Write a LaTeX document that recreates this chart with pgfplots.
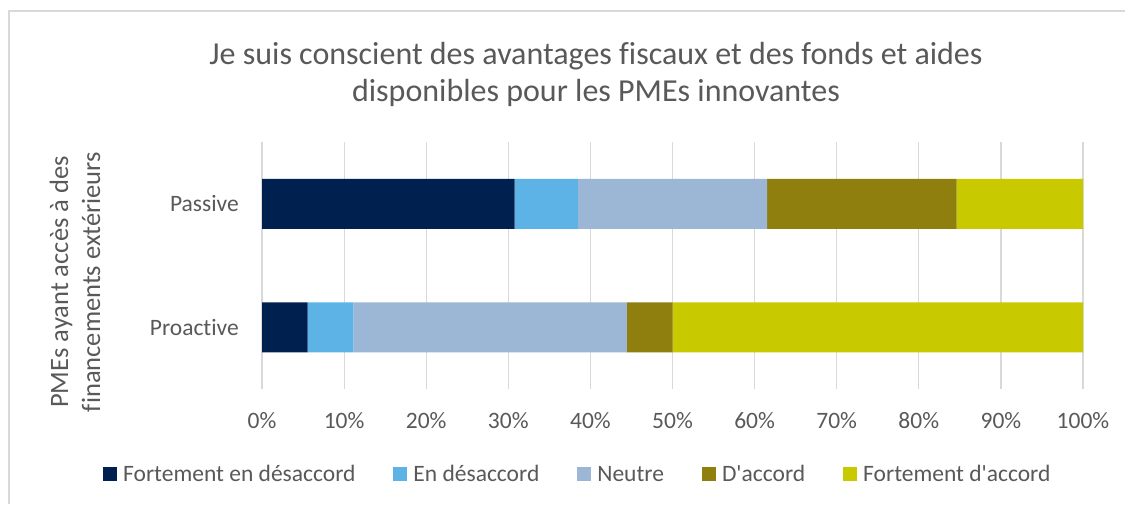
\documentclass[border=0pt]{standalone}
\usepackage{fontspec}
\setmainfont{Carlito}[Ligatures={NoCommon,NoDiscretionary,NoRare}]
\usepackage{pgfplots}
\pgfplotsset{compat=1.18}
\definecolor{c1}{HTML}{002050}
\definecolor{c2}{HTML}{5DB3E6}
\definecolor{c3}{HTML}{9BB7D5}
\definecolor{c4}{HTML}{8F7F0E}
\definecolor{c5}{HTML}{C9C900}
\definecolor{txt}{HTML}{595959}
\definecolor{gridc}{HTML}{D9D9D9}
\pgfplotsset{sqlegend/.style={legend image code/.code={\fill[##1] (0pt,-7pt) rectangle (14pt,7pt);}}}
\begin{document}
\begin{tikzpicture}[x=1pt,y=1pt]
\useasboundingbox (0,0) rectangle (1125,504);
\fill[white] (0,0) rectangle (1125,504);
\draw[gridc, line width=1.2pt] (9,0) -- (9,493) -- (1125,493);
\node[txt, font=\fontsize{32}{37}\selectfont, anchor=base] at (596,439) {Je suis conscient des avantages fiscaux et des fonds et aides};
\node[txt, font=\fontsize{32}{37}\selectfont, anchor=base] at (596,402) {disponibles pour les PMEs innovantes};
\node[txt, font=\fontsize{26.5}{32}\selectfont, rotate=90, anchor=base] at (68,222) {PMEs ayant accès à des};
\node[txt, font=\fontsize{26.5}{32}\selectfont, rotate=90, anchor=base] at (100,222) {financements extérieurs};
\begin{axis}[
  at={(262pt,115pt)}, anchor=south west,
  scale only axis, width=821pt, height=247pt,
  xbar stacked, bar width=50pt,
  xmin=0, xmax=100, ymin=-0.5, ymax=1.5,
  ytick={0,1}, yticklabels={Proactive,Passive},
  xtick={0,10,...,100},
  xticklabel={\pgfmathprintnumber{\tick}\%},
  /pgf/number format/assume math mode=true,
  xmajorgrids, major grid style={gridc, line width=1.2pt},
  axis line style={draw=none},
  major tick length=0pt,
  tick style={draw=none},
  xticklabel style={txt, font=\fontsize{23.5}{28}\selectfont, inner sep=0pt, text height=15pt, text depth=0pt},
  yticklabel style={txt, font=\fontsize{23.5}{28}\selectfont, inner sep=0pt},
  xticklabel shift=24pt,
  yticklabel shift=23pt,
  legend style={at={(-0.1937,-0.344)}, anchor=west, draw=none, fill=none, inner sep=0pt,
    font=\fontsize{23.5}{28}\selectfont, text=txt, legend columns=-1,
    /tikz/every even column/.append style={column sep=38pt},
    /tikz/every odd column/.append style={column sep=6pt},
    nodes={inner sep=0pt, text height=16pt, text depth=0pt}},
  legend cell align=left,
]
\addplot[fill=c1, draw=none, sqlegend] coordinates {(5.56,0) (30.77,1)};
\addplot[fill=c2, draw=none, sqlegend] coordinates {(5.56,0) (7.69,1)};
\addplot[fill=c3, draw=none, sqlegend] coordinates {(33.33,0) (23.08,1)};
\addplot[fill=c4, draw=none, sqlegend] coordinates {(5.56,0) (23.08,1)};
\addplot[fill=c5, draw=none, sqlegend] coordinates {(50.00,0) (15.38,1)};
\legend{Fortement en désaccord, En désaccord, Neutre, D\textquotesingle accord, Fortement d\textquotesingle accord}
\end{axis}
\end{tikzpicture}
\end{document}
